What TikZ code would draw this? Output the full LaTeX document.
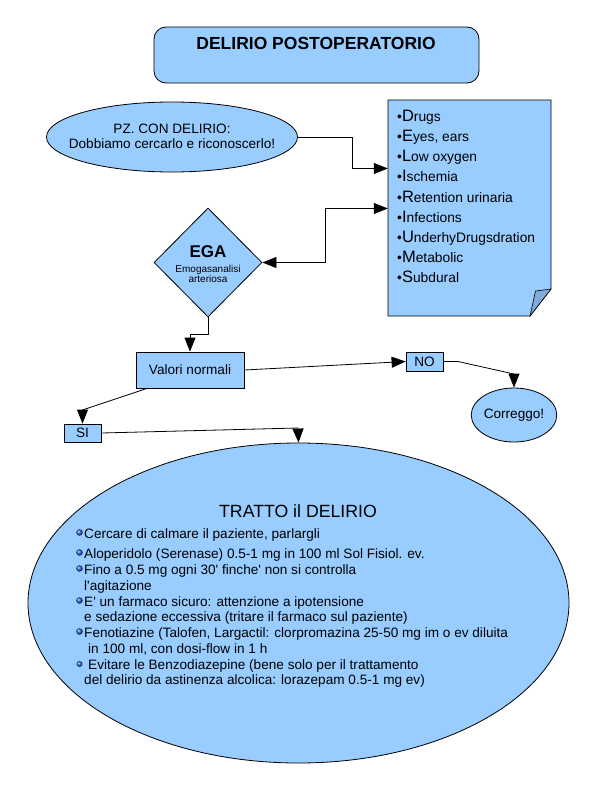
\documentclass[tikz,border=0pt]{standalone}
\usepackage{fontspec}
\newfontfamily\lsans{Liberation Sans}
\usetikzlibrary{shapes.geometric,arrows.meta,calc}
\definecolor{fillblue}{HTML}{99CCFF}
\definecolor{foldblue}{HTML}{7FAAD9}
\definecolor{ballblue}{HTML}{2A5CC8}
\newcommand\fs[1]{\lsans\fontsize{#1}{#1}\selectfont}
\begin{document}
\begin{tikzpicture}[x=1pt,y=-1pt,
  fig/.style={draw=black, line width=0.8pt, fill=fillblue, inner sep=0pt},
  box/.style={fig, rectangle, font=\fs{13.6}},
  ell/.style={fig, ellipse, font=\fs{13.6}},
  tip/.tip={Triangle[length=14pt,width=11pt,fill=black]},
  conn/.style={line width=0.8pt, -tip},
  dconn/.style={line width=0.8pt, tip-tip},
  txt/.style={inner sep=0pt, font=\fs{13.6}},
  lst/.style={inner sep=0pt, anchor=base west, font=\fs{13.8}},
  ball/.style={ball color=ballblue}
]
\useasboundingbox (0,0) rectangle (612,792);

% title
\node[box, rounded corners=12pt, minimum width=325pt, minimum height=56pt] (title) at (316.5,55) {};
\node[txt, anchor=base, font=\fs{17.5}\bfseries] (titletext) at (316,50) {DELIRIO POSTOPERATORIO};

% PZ ellipse
\node[ell, minimum width=251pt, minimum height=70pt] (pz) at (172,137) {};
\node[txt, anchor=base] (pz1) at (172,133) {PZ. CON DELIRIO:};
\node[txt, anchor=base] (pz2) at (172,148) {Dobbiamo cercarlo e riconoscerlo!};

% document
\draw[fig] (388,100) -- (551,100) -- (551,289) -- (530,316) -- (388,316) -- cycle;
\filldraw[fill=foldblue, draw=black, line width=0.6pt] (530,316) -- (535.5,291) -- (551,289) -- cycle;
\node[inner sep=0pt, minimum width=163pt, minimum height=216pt] (doc) at (469.5,208) {};
\node[lst] (d1) at (397,121) {•{\fs{16.5}D}rugs};
\node[lst] (d2) at (397,141) {•{\fs{16.5}E}yes, ears};
\node[lst] (d3) at (397,161.5) {•{\fs{16.5}L}ow oxygen};
\node[lst] (d4) at (397,181.5) {•{\fs{16.5}I}schemia};
\node[lst] (d5) at (397,202) {•{\fs{16.5}R}etention urinaria};
\node[lst] (d6) at (397,222) {•{\fs{16.5}I}nfections};
\node[lst] (d7) at (397,242) {•{\fs{16.5}U}nderhyDrugsdration};
\node[lst] (d8) at (397,262.5) {•{\fs{16.5}M}etabolic};
\node[lst] (d9) at (397,282.5) {•{\fs{16.5}S}ubdural};

% EGA diamond
\node[fig, diamond, minimum width=108pt, minimum height=109pt] (ega) at (208,262.5) {};
\node[txt, anchor=base, font=\fs{17}\bfseries] (ega1) at (208,257) {EGA};
\node[txt, anchor=base, font=\fs{10}] (ega2) at (208,272) {Emogasanalisi};
\node[txt, anchor=base, font=\fs{10}] (ega3) at (208,282.5) {arteriosa};

% boxes
\node[box, minimum width=108pt, minimum height=36pt] (valori) at (190,370) {Valori normali};
\node[box, minimum width=37pt, minimum height=19pt] (no) at (424.5,361.5) {NO};
\node[box, minimum width=37pt, minimum height=18pt] (si) at (82.5,433) {SI};
\node[ell, minimum width=72pt, minimum height=54pt] (corr) at (514,415) {Correggo!};

% big ellipse
\node[ell, minimum width=541pt, minimum height=320pt] (big) at (298.5,603) {};
\node[txt, anchor=base, font=\fs{17.7}] (tratto) at (298,517) {TRATTO il DELIRIO};
\node[txt, anchor=base west] (t1) at (84,538) {Cercare di calmare il paziente, parlargli};
\node[txt, anchor=base west] (t2) at (84,558) {Aloperidolo (Serenase) 0.5-1 mg in 100 ml Sol Fisiol. ev.};
\node[txt, anchor=base west] (t3) at (84,574) {Fino a 0.5 mg ogni 30' finche' non si controlla};
\node[txt, anchor=base west] (t4) at (84,590) {l'agitazione};
\node[txt, anchor=base west] (t5) at (84,606) {E' un farmaco sicuro: attenzione a ipotensione};
\node[txt, anchor=base west] (t6) at (84,621) {e sedazione eccessiva (tritare il farmaco sul paziente)};
\node[txt, anchor=base west] (t7) at (84,637) {Fenotiazine (Talofen, Largactil: clorpromazina 25-50 mg im o ev diluita};
\node[txt, anchor=base west] (t8) at (88,653) {in 100 ml, con dosi-flow in 1 h};
\node[txt, anchor=base west] (t9) at (88,669) {Evitare le Benzodiazepine (bene solo per il trattamento};
\node[txt, anchor=base west] (t10) at (84,684) {del delirio da astinenza alcolica: lorazepam 0.5-1 mg ev)};
\shade[ball] (79.5,532.5) circle (3.3);
\shade[ball] (79.5,552.5) circle (3.3);
\shade[ball] (79.5,568.5) circle (3.3);
\shade[ball] (79.5,600.5) circle (3.3);
\shade[ball] (79.5,631.5) circle (3.3);
\shade[ball] (79.5,664) circle (3);

% connectors
\coordinate (yA) at (0,168.5);
\coordinate (yB) at (0,208.5);
\draw[conn] (pz.east) -- (352,137) -- (352,168.5) -- (doc.west |- yA);
\draw[dconn] (ega.east) -- (325,262.5) -- (325,208.5) -- (doc.west |- yB);
\draw[conn] (ega.south) -- (208,334) -- (190,334) -- (valori.north);
\draw[conn] (valori.east) -- (no.west);
\draw[conn] (no.east) -- (458,361.5) -- (514,374) -- (corr.north);
\draw[conn] ($(valori.south)+(-43,0)$) -- (82.5,410) -- (si.north);
\draw[conn] (si.east) -- (298,428) -- (big.north);
\end{tikzpicture}
\end{document}
